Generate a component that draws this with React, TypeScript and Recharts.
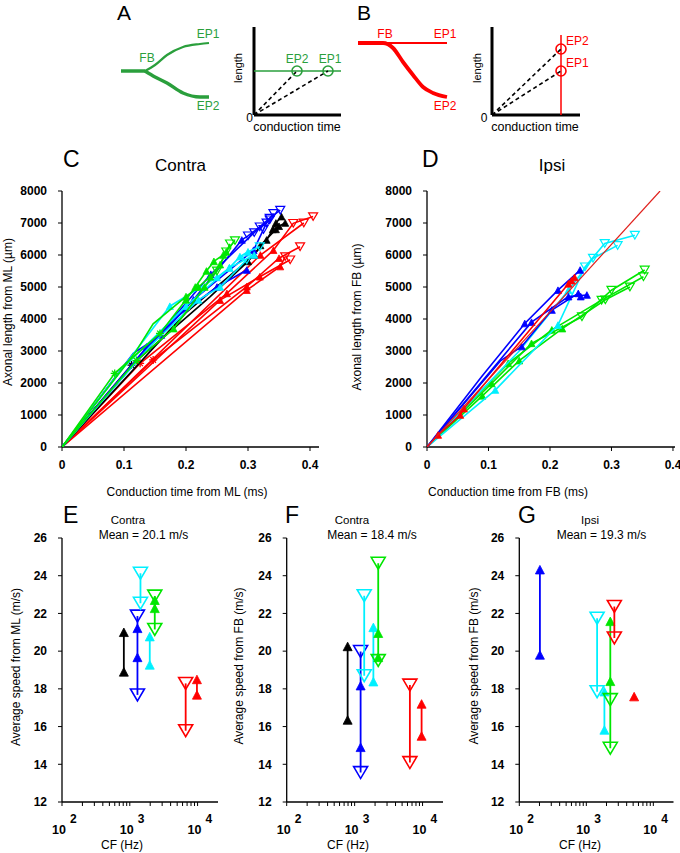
import React from "react";
import { ScatterChart, Scatter, XAxis, YAxis, LineChart, Line } from "recharts";

const FONT = '"Liberation Sans", Arial, Helvetica, sans-serif';

const GREEN = "#00e600";
const CYAN = "#00f0ff";
const BLUE = "#0000ff";
const RED = "#ff0000";
const BLACK = "#000000";
const SCHEME_GREEN = "#2a9f3c";

type P = [number, number, string];

// ---- schematic A / B ----
const treeAStem = [{ x: 6, y: 34 }, { x: 30, y: 34 }];
const treeAUpper = [
  { x: 30, y: 34 }, { x: 40, y: 40 }, { x: 52, y: 50 }, { x: 68, y: 58 }, { x: 85, y: 61 }, { x: 94, y: 62 },
];
const treeALower = [
  { x: 30, y: 34 }, { x: 40, y: 28 }, { x: 52, y: 22 }, { x: 68, y: 12 }, { x: 85, y: 8 }, { x: 94, y: 8 },
];
const treeBFlat = [{ x: 8, y: 62 }, { x: 97, y: 62 }];
const treeBCurve = [
  { x: 8, y: 62 }, { x: 33, y: 62 }, { x: 43, y: 57 }, { x: 53, y: 43 }, { x: 63, y: 30 },
  { x: 73, y: 18 }, { x: 83, y: 12 }, { x: 97, y: 8 },
];

const miniAFlat = [{ x: 0, y: 44 }, { x: 87, y: 44 }];
const miniADash = [
  [{ x: 0, y: 0 }, { x: 43, y: 44 }],
  [{ x: 0, y: 0 }, { x: 74, y: 44 }],
];
const miniACircles = [{ x: 43, y: 44 }, { x: 74, y: 44 }];

const miniBVert = [{ x: 69, y: 0 }, { x: 69, y: 80 }];
const miniBDash = [
  [{ x: 0, y: 0 }, { x: 69, y: 66 }],
  [{ x: 0, y: 0 }, { x: 69, y: 44 }],
];
const miniBCircles = [{ x: 69, y: 66 }, { x: 69, y: 44 }];

// ---- C: contra, time (ms) vs length (um) ----
const timeTicks = [0, 0.1, 0.2, 0.3, 0.4];
const lengthTicks = [0, 1000, 2000, 3000, 4000, 5000, 6000, 7000, 8000];

const contraRed: P[][] = [
  [[0, 0, "n"], [0.126, 2615, "s"], [0.266, 4800, "u"], [0.341, 6150, "u"], [0.373, 6990, "d"], [0.405, 7200, "d"]],
  [[0, 0, "n"], [0.147, 2720, "s"], [0.298, 5010, "u"], [0.35, 5900, "u"], [0.384, 6260, "d"]],
  [[0, 0, "n"], [0.255, 4590, "u"], [0.319, 5320, "u"], [0.368, 5850, "d"]],
  [[0, 0, "n"], [0.298, 4900, "u"], [0.352, 5640, "u"], [0.36, 5950, "d"]],
  [[0, 0, "n"], [0.32, 6000, "u"], [0.39, 7000, "d"]],
];
const contraBlack: P[][] = [
  [[0, 0, "n"], [0.112, 2560, "s"], [0.239, 4700, "n"], [0.3, 5800, "u"], [0.33, 6470, "u"], [0.34, 6800, "u"], [0.345, 7000, "u"], [0.354, 7200, "u"]],
  [[0, 0, "n"], [0.2, 4200, "n"], [0.31, 6000, "u"], [0.32, 6300, "u"], [0.345, 6800, "u"], [0.35, 6900, "u"], [0.36, 7000, "u"]],
];
const contraBlue: P[][] = [
  [[0, 0, "n"], [0.115, 2930, "n"], [0.16, 3500, "u"], [0.212, 4600, "u"], [0.29, 6470, "u"], [0.3, 6600, "d"], [0.319, 6880, "d"], [0.335, 7150, "d"], [0.352, 7400, "d"]],
  [[0, 0, "n"], [0.137, 3130, "u"], [0.206, 4500, "n"], [0.309, 6150, "u"], [0.325, 6800, "d"], [0.33, 7000, "d"], [0.341, 7300, "d"]],
  [[0, 0, "n"], [0.18, 4000, "n"], [0.25, 5000, "u"], [0.298, 5530, "u"]],
  [[0, 0, "n"], [0.24, 5400, "u"], [0.31, 6700, "d"], [0.335, 7100, "d"]],
];
const contraCyan: P[][] = [
  [[0, 0, "n"], [0.174, 4400, "u"], [0.25, 5300, "u"], [0.27, 5600, "u"], [0.287, 5950, "u"], [0.3, 6100, "u"], [0.319, 6260, "d"]],
  [[0, 0, "n"], [0.142, 3150, "n"], [0.22, 4600, "u"], [0.255, 5000, "u"], [0.298, 5850, "d"]],
  [[0, 0, "n"], [0.1, 2500, "n"], [0.2, 4400, "u"], [0.27, 5600, "u"], [0.31, 6000, "u"]],
];
const contraGreen: P[][] = [
  [[0, 0, "n"], [0.085, 2300, "s"], [0.158, 3550, "s"], [0.2, 4600, "u"], [0.215, 5000, "u"], [0.233, 5500, "u"], [0.245, 5800, "u"], [0.26, 6000, "u"], [0.279, 6450, "d"]],
  [[0, 0, "n"], [0.118, 2950, "n"], [0.147, 3850, "n"], [0.2, 4700, "u"], [0.22, 5000, "u"], [0.239, 5320, "u"], [0.255, 5700, "u"], [0.265, 6100, "u"], [0.271, 6350, "d"]],
  [[0, 0, "n"], [0.12, 2700, "s"], [0.18, 3700, "u"], [0.23, 5000, "u"], [0.25, 5500, "d"], [0.265, 6100, "d"]],
];

// ---- D: ipsi ----
const ipsiGreen: P[][] = [
  [[0, 0, "n"], [0.105, 1990, "u"], [0.17, 3240, "u"], [0.252, 4070, "d"], [0.3, 4900, "d"], [0.354, 5530, "d"]],
  [[0, 0, "n"], [0.132, 2615, "u"], [0.203, 3660, "u"], [0.284, 4590, "d"], [0.352, 5320, "d"]],
  [[0, 0, "n"], [0.09, 1600, "u"], [0.15, 2700, "u"], [0.22, 3700, "u"], [0.29, 4600, "d"], [0.33, 5000, "d"]],
];
const ipsiCyan: P[][] = [
  [[0, 0, "n"], [0.111, 1780, "u"], [0.213, 3810, "u"], [0.257, 5630, "d"], [0.289, 6360, "d"], [0.338, 6620, "d"]],
  [[0, 0, "n"], [0.15, 3000, "n"], [0.23, 4900, "u"], [0.27, 5900, "d"], [0.31, 6300, "d"]],
];
const ipsiBlue: P[][] = [
  [[0, 0, "n"], [0.089, 2200, "n"], [0.159, 3860, "u"], [0.213, 4900, "u"], [0.249, 5530, "u"]],
  [[0, 0, "n"], [0.12, 2700, "n"], [0.154, 3140, "u"], [0.203, 4280, "u"], [0.246, 4800, "u"], [0.25, 4700, "u"]],
  [[0, 0, "n"], [0.17, 3900, "u"], [0.23, 4700, "u"], [0.26, 4750, "u"]],
];
const ipsiRed: P[][] = [
  [[0, 0, "n"], [0.018, 375, "u"], [0.054, 1000, "u"], [0.06, 1200, "u"], [0.23, 5100, "u"], [0.235, 5200, "u"], [0.24, 5300, "u"]],
];
const ipsiFit = [{ x: 0, y: 0 }, { x: 0.379, y: 8000 }];

// ---- E/F/G: CF (Hz) vs speed (m/s) ----
const speedTicks = [12, 14, 16, 18, 20, 22, 24, 26];
const cfTicks = [100, 200, 300, 400, 500, 600, 700, 800, 900, 1000, 2000, 3000, 4000, 5000, 6000, 7000, 8000, 9000, 10000];

type Group = { color: string; cf: number; pts: [number, string][] };

const speedE: Group[] = [
  { color: BLACK, cf: 817, pts: [[21.0, "u"], [18.9, "u"]] },
  { color: BLUE, cf: 1297, pts: [[21.86, "d"], [21.21, "u"], [19.67, "u"], [17.68, "d"]] },
  { color: CYAN, cf: 1437, pts: [[24.13, "d"], [22.54, "d"]] },
  { color: CYAN, cf: 1970, pts: [[20.77, "u"], [19.27, "u"]] },
  { color: GREEN, cf: 2335, pts: [[22.92, "d"], [22.7, "u"], [22.27, "u"], [21.15, "d"]] },
  { color: RED, cf: 6670, pts: [[18.29, "d"], [15.78, "d"]] },
  { color: RED, cf: 9780, pts: [[18.5, "u"], [17.68, "u"]] },
];
const speedF: Group[] = [
  { color: BLACK, cf: 789, pts: [[20.25, "u"], [16.35, "u"]] },
  { color: BLUE, cf: 1225, pts: [[19.98, "d"], [18.17, "u"], [14.9, "u"], [13.56, "d"]] },
  { color: CYAN, cf: 1384, pts: [[22.94, "d"], [18.7, "d"]] },
  { color: CYAN, cf: 1888, pts: [[21.26, "u"], [18.38, "u"]] },
  { color: GREEN, cf: 2225, pts: [[24.66, "d"], [20.95, "u"], [19.67, "u"], [19.5, "d"]] },
  { color: RED, cf: 6510, pts: [[18.2, "d"], [14.09, "d"]] },
  { color: RED, cf: 9680, pts: [[17.2, "u"], [15.5, "u"]] },
];
const speedG: Group[] = [
  { color: BLUE, cf: 203, pts: [[24.32, "u"], [19.8, "u"]] },
  { color: CYAN, cf: 1449, pts: [[21.75, "d"], [17.85, "d"]] },
  { color: CYAN, cf: 1862, pts: [[17.85, "u"], [15.82, "u"]] },
  { color: GREEN, cf: 2280, pts: [[21.58, "u"], [18.4, "u"], [17.43, "d"], [14.85, "d"]] },
  { color: RED, cf: 2620, pts: [[22.37, "d"], [20.7, "d"]] },
  { color: RED, cf: 5175, pts: [[17.59, "u"]] },
];

const toPts = (arr: P[]) => arr.map(([x, y, m]) => ({ x, y, m }));
const groupPts = (g: Group) => g.pts.map(([y, m]) => ({ x: g.cf, y, m }));

function markerShape(color: string, up: number, down: number, lw: number) {
  return (props: any) => {
    const { cx, cy, payload } = props;
    if (cx == null || cy == null || !payload) return <g />;
    const m = payload.m;
    if (m === "u") {
      const h = up * 0.95;
      return (
        <polygon
          points={`${cx},${cy - h / 2} ${cx - up / 2},${cy + h / 2} ${cx + up / 2},${cy + h / 2}`}
          fill={color}
          stroke={color}
          strokeWidth={0.8}
        />
      );
    }
    if (m === "d") {
      const h = down * 0.85;
      return (
        <polygon
          points={`${cx - down / 2},${cy - h / 2} ${cx + down / 2},${cy - h / 2} ${cx},${cy + h / 2}`}
          fill="none"
          stroke={color}
          strokeWidth={lw}
        />
      );
    }
    if (m === "s") {
      const r = up / 2 + 0.5;
      const k = r * 0.7;
      return (
        <path
          d={`M${cx - r},${cy}L${cx + r},${cy}M${cx},${cy - r}L${cx},${cy + r}M${cx - k},${cy - k}L${cx + k},${cy + k}M${cx - k},${cy + k}L${cx + k},${cy - k}`}
          stroke={color}
          strokeWidth={1.3}
          fill="none"
        />
      );
    }
    return <g />;
  };
}

const noShape = () => <g />;

function ringShape(color: string) {
  return (props: any) => {
    const { cx, cy } = props;
    if (cx == null || cy == null) return <g />;
    return <circle cx={cx} cy={cy} r={5} fill="none" stroke={color} strokeWidth={1.6} />;
  };
}

function LogTick(props: any) {
  const { x, y, payload } = props;
  const v = payload.value;
  const exp = Math.round(Math.log10(v));
  if (Math.abs(Math.pow(10, exp) - v) > 1e-6) return <g />;
  return (
    <g fontFamily={FONT} fontWeight="bold" fill="#000">
      <text x={x - 10} y={y + 28} fontSize={12.5}>10</text>
      <text x={x + 8} y={y + 17} fontSize={12}>{exp}</text>
    </g>
  );
}

const tickFont = { fontSize: 12, fontWeight: "bold" as const, fill: "#000", fontFamily: FONT };
const axisLine = { stroke: "#000", strokeWidth: 1.3 };

function T(props: {
  x: number;
  y: number;
  children: React.ReactNode;
  size?: number;
  anchor?: "start" | "middle" | "end";
  color?: string;
  rotate?: boolean;
  weight?: string;
}) {
  const { x, y, children, size = 12, anchor = "middle", color = "#000", rotate, weight = "normal" } = props;
  return (
    <text
      x={x}
      y={y}
      fontSize={size}
      textAnchor={anchor}
      fill={color}
      fontWeight={weight}
      fontFamily={FONT}
      transform={rotate ? `rotate(-90 ${x} ${y})` : undefined}
    >
      {children}
    </text>
  );
}

function Tree({ left, lines }: { left: number; lines: { data: { x: number; y: number }[]; color: string; w: number }[] }) {
  return (
    <div style={{ position: "absolute", left, top: 35 }}>
      <LineChart width={100} height={70} margin={{ top: 0, right: 0, left: 0, bottom: 0 }}>
        <XAxis type="number" dataKey="x" domain={[0, 100]} hide />
        <YAxis type="number" dataKey="y" domain={[0, 70]} hide />
        {lines.map((l, i) => (
          <Line
            key={i}
            data={l.data}
            dataKey="y"
            type="monotone"
            stroke={l.color}
            strokeWidth={l.w}
            dot={false}
            isAnimationActive={false}
          />
        ))}
      </LineChart>
    </div>
  );
}

function Mini({
  left,
  domainX,
  solid,
  dashes,
  circles,
  color,
}: {
  left: number;
  domainX: number;
  solid: { x: number; y: number }[];
  dashes: { x: number; y: number }[][];
  circles: { x: number; y: number }[];
  color: string;
}) {
  return (
    <div style={{ position: "absolute", left, top: 20 }}>
      <ScatterChart width={10 + domainX + 7} height={100} margin={{ top: 7, right: 7, left: 0, bottom: 0 }}>
        <XAxis
          type="number"
          dataKey="x"
          domain={[0, domainX]}
          tick={false}
          tickLine={false}
          height={5}
          axisLine={{ stroke: "#000", strokeWidth: 3 }}
          allowDataOverflow
        />
        <YAxis
          type="number"
          dataKey="y"
          domain={[0, 88]}
          tick={false}
          tickLine={false}
          width={10}
          axisLine={{ stroke: "#000", strokeWidth: 3 }}
          allowDataOverflow
        />
        <Scatter data={solid} shape={noShape} line={{ stroke: color, strokeWidth: 1.5 }} isAnimationActive={false} />
        {dashes.map((d, i) => (
          <Scatter
            key={i}
            data={d}
            shape={noShape}
            line={{ stroke: "#000", strokeWidth: 1.6, strokeDasharray: "4 3" }}
            isAnimationActive={false}
          />
        ))}
        <Scatter data={circles} shape={ringShape(color)} isAnimationActive={false} />
      </ScatterChart>
    </div>
  );
}

function TracePanel({
  left,
  width,
  marginLeft,
  marginRight,
  xMax,
  groups,
  fit,
}: {
  left: number;
  width: number;
  marginLeft: number;
  marginRight: number;
  xMax: number;
  groups: { color: string; traces: P[][] }[];
  fit?: { x: number; y: number }[];
}) {
  return (
    <div style={{ position: "absolute", left, top: 180 }}>
      <ScatterChart
        width={width}
        height={300}
        margin={{ top: 11, right: marginRight, left: marginLeft, bottom: 3 }}
      >
        <XAxis
          type="number"
          dataKey="x"
          domain={[0, xMax]}
          ticks={timeTicks}
          interval={0}
          allowDataOverflow
          tick={tickFont}
          tickSize={4}
          tickMargin={9}
          height={30}
          axisLine={axisLine}
          tickLine={{ stroke: "#000" }}
        />
        <YAxis
          type="number"
          dataKey="y"
          domain={[0, 8000]}
          ticks={lengthTicks}
          interval={0}
          allowDataOverflow
          tick={tickFont}
          tickSize={4}
          tickMargin={11}
          width={50}
          axisLine={axisLine}
          tickLine={{ stroke: "#000" }}
        />
        {groups.map((g, gi) =>
          g.traces.map((t, ti) => (
            <Scatter
              key={`${gi}-${ti}`}
              data={toPts(t)}
              shape={markerShape(g.color, 7, 9, 1.2)}
              line={{ stroke: g.color, strokeWidth: 1.6 }}
              lineType="joint"
              isAnimationActive={false}
            />
          ))
        )}
        {fit && (
          <Scatter data={fit} shape={noShape} line={{ stroke: "#e0201c", strokeWidth: 1.2 }} isAnimationActive={false} />
        )}
      </ScatterChart>
    </div>
  );
}

function SpeedPanel({
  left,
  width,
  marginLeft,
  marginRight,
  groups,
}: {
  left: number;
  width: number;
  marginLeft: number;
  marginRight: number;
  groups: Group[];
}) {
  return (
    <div style={{ position: "absolute", left, top: 520 }}>
      <ScatterChart
        width={width}
        height={330}
        margin={{ top: 18, right: marginRight, left: marginLeft, bottom: 18 }}
      >
        <XAxis
          type="number"
          dataKey="x"
          scale="log"
          domain={[100, 20000]}
          ticks={cfTicks}
          interval={0}
          allowDataOverflow
          tick={LogTick}
          tickSize={4}
          tickMargin={0}
          height={30}
          axisLine={axisLine}
          tickLine={{ stroke: "#000" }}
        />
        <YAxis
          type="number"
          dataKey="y"
          domain={[12, 26]}
          ticks={speedTicks}
          interval={0}
          allowDataOverflow
          tick={tickFont}
          tickSize={4}
          tickMargin={11}
          width={40}
          axisLine={axisLine}
          tickLine={{ stroke: "#000" }}
        />
        {groups.map((g, i) => (
          <Scatter
            key={i}
            data={groupPts(g)}
            shape={markerShape(g.color, 9, 14, 1.6)}
            line={{ stroke: g.color, strokeWidth: 1.8 }}
            lineType="joint"
            isAnimationActive={false}
          />
        ))}
      </ScatterChart>
    </div>
  );
}

export default function App() {
  return (
    <div style={{ position: "absolute", left: 0, top: 0, width: 680, height: 853, background: "#fff" }}>
      <Tree
        left={115}
        lines={[
          { data: treeAStem, color: SCHEME_GREEN, w: 3.5 },
          { data: treeAUpper, color: SCHEME_GREEN, w: 2.2 },
          { data: treeALower, color: SCHEME_GREEN, w: 3.5 },
        ]}
      />
      <Tree
        left={350}
        lines={[
          { data: treeBFlat, color: RED, w: 1.8 },
          { data: treeBCurve, color: RED, w: 3.8 },
        ]}
      />
      <Mini left={244} domainX={87} solid={miniAFlat} dashes={miniADash} circles={miniACircles} color={SCHEME_GREEN} />
      <Mini left={482} domainX={88} solid={miniBVert} dashes={miniBDash} circles={miniBCircles} color={RED} />

      <TracePanel
        left={0}
        width={330}
        marginLeft={12}
        marginRight={11}
        xMax={0.4145}
        groups={[
          { color: RED, traces: contraRed },
          { color: BLACK, traces: contraBlack },
          { color: BLUE, traces: contraBlue },
          { color: CYAN, traces: contraCyan },
          { color: GREEN, traces: contraGreen },
        ]}
      />
      <TracePanel
        left={360}
        width={320}
        marginLeft={17}
        marginRight={5}
        xMax={0.4033}
        groups={[
          { color: GREEN, traces: ipsiGreen },
          { color: CYAN, traces: ipsiCyan },
          { color: BLUE, traces: ipsiBlue },
          { color: RED, traces: ipsiRed },
        ]}
        fit={ipsiFit}
      />

      <SpeedPanel left={0} width={230} marginLeft={22} marginRight={12} groups={speedE} />
      <SpeedPanel left={225} width={230} marginLeft={21.7} marginRight={12} groups={speedF} />
      <SpeedPanel left={455} width={225} marginLeft={24.3} marginRight={6.5} groups={speedG} />

      <svg
        width={680}
        height={853}
        style={{ position: "absolute", left: 0, top: 0, pointerEvents: "none" }}
      >
        <T x={117} y={20} size={21} anchor="start">A</T>
        <T x={357} y={20} size={21} anchor="start">B</T>
        <T x={63} y={167} size={23} anchor="start">C</T>
        <T x={422} y={167} size={23} anchor="start">D</T>
        <T x={63} y={523} size={23} anchor="start">E</T>
        <T x={285} y={523} size={23} anchor="start">F</T>
        <T x={518} y={523} size={23} anchor="start">G</T>

        <T x={147} y={62} color={SCHEME_GREEN}>FB</T>
        <T x={208} y={38} color={SCHEME_GREEN}>EP1</T>
        <T x={208} y={110} color={SCHEME_GREEN}>EP2</T>
        <T x={297} y={63} color={SCHEME_GREEN}>EP2</T>
        <T x={330} y={63} color={SCHEME_GREEN}>EP1</T>
        <T x={242} y={68} size={11} rotate>length</T>
        <T x={249.5} y={122}>0</T>
        <T x={297} y={131} size={12.5}>conduction time</T>

        <T x={385} y={38} color={RED}>FB</T>
        <T x={445} y={38} color={RED}>EP1</T>
        <T x={445} y={110} color={RED}>EP2</T>
        <T x={481} y={68} size={11} rotate>length</T>
        <T x={484} y={122}>0</T>
        <T x={535} y={131} size={12.5}>conduction time</T>
        <T x={566} y={45} anchor="start" color={RED}>EP2</T>
        <T x={566} y={67} anchor="start" color={RED}>EP1</T>

        <T x={180.5} y={171} size={17}>Contra</T>
        <T x={552} y={171} size={17}>Ipsi</T>
        <T x={187} y={496}>Conduction time from ML (ms)</T>
        <T x={508} y={496}>Conduction time from FB (ms)</T>
        <T x={12} y={312} rotate>Axonal length from ML (µm)</T>
        <T x={361} y={317} rotate>Axonal length from FB (µm)</T>

        <T x={128} y={524} size={11.5}>Contra</T>
        <T x={143.5} y={539}>Mean = 20.1 m/s</T>
        <T x={352} y={524} size={11.5}>Contra</T>
        <T x={372} y={539}>Mean = 18.4 m/s</T>
        <T x={590} y={524} size={11.5}>Ipsi</T>
        <T x={601.5} y={539}>Mean = 19.3 m/s</T>

        <T x={20} y={667} rotate>Average speed from ML (m/s)</T>
        <T x={243} y={666} rotate>Average speed from FB (m/s)</T>
        <T x={478} y={666} rotate>Average speed from FB (m/s)</T>
        <T x={122} y={849}>CF (Hz)</T>
        <T x={348} y={849}>CF (Hz)</T>
        <T x={580} y={849}>CF (Hz)</T>
      </svg>
    </div>
  );
}
